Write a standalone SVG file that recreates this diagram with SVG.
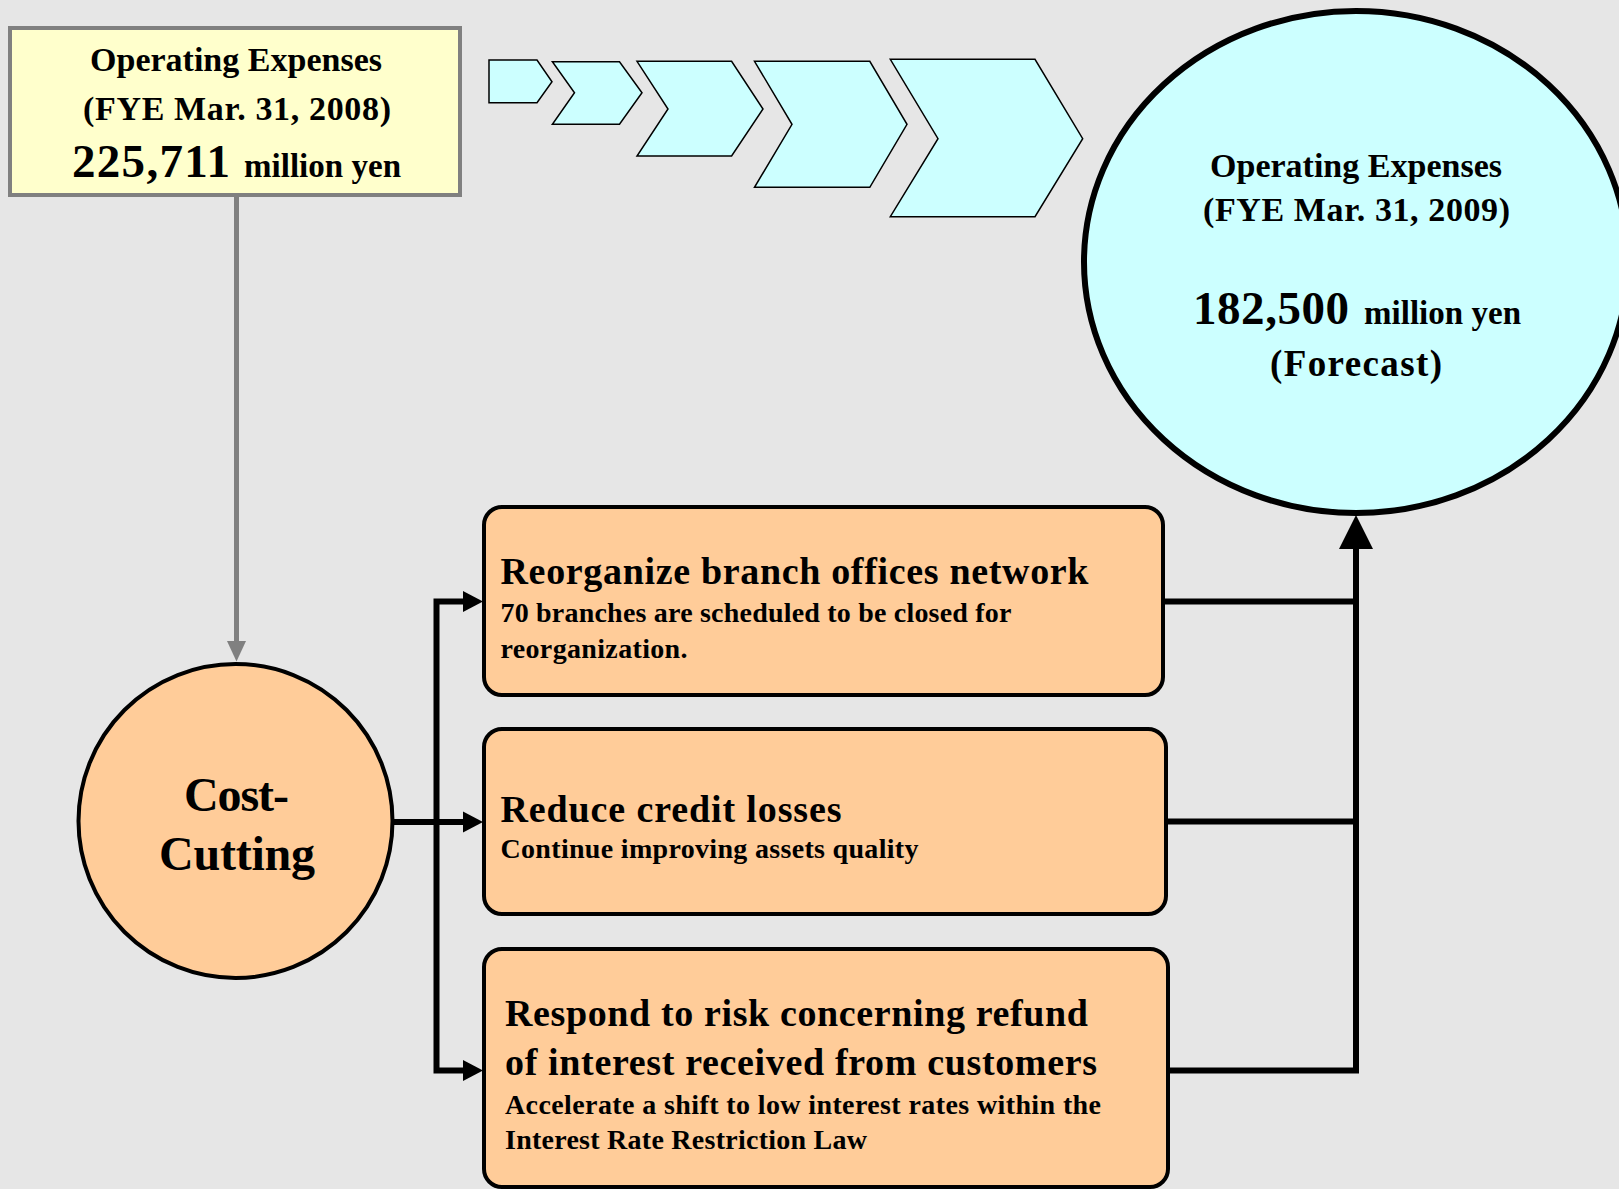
<svg xmlns="http://www.w3.org/2000/svg" width="1619" height="1189" viewBox="0 0 1619 1189">
<style>
text{font-family:"Liberation Serif","Times New Roman",serif;font-weight:bold;fill:#000}
.chev{fill:#CCFFFF;stroke:#000;stroke-width:1.5;stroke-linejoin:miter}
.box{fill:#FFCC99;stroke:#000;stroke-width:4}
.ln{fill:none;stroke:#000;stroke-width:6}
.t{font-size:38px}
.s{font-size:28px}
.h{font-size:34px}
</style>
<rect x="0" y="0" width="1619" height="1189" fill="#E6E6E6"/>
<g id="chevrons">
<polygon class="chev" points="489,60 537,60 552,81.7 537,102.7 489,102.7"/>
<polygon class="chev" points="552.4,61.7 619.5,61.7 642,92.7 619.5,124.3 552.4,124.3 574.5,92.7"/>
<polygon class="chev" points="637,61.3 731.6,61.3 763,109 731.6,156 637,156 668,109"/>
<polygon class="chev" points="754.5,61.3 869.8,61.3 907,124.3 869.8,187.3 754.5,187.3 792,124.3"/>
<polygon class="chev" points="890.3,59.3 1035,59.3 1082.7,138.7 1035,216.7 890.3,216.7 938,138.7"/>
</g>
<g id="connectors">
<line x1="236.5" y1="196" x2="236.5" y2="645" stroke="#808080" stroke-width="5"/>
<polygon points="227,641 246,641 236.5,661.5" fill="#808080"/>
<line class="ln" x1="392" y1="822" x2="466" y2="822"/>
<polyline class="ln" points="466,601.5 436.5,601.5 436.5,1070.5 466,1070.5"/>
<polygon points="463,811.5 483,822 463,832.5"/>
<polygon points="463,591 483,601.5 463,612"/>
<polygon points="463,1060 483,1070.5 463,1081"/>
<polyline class="ln" points="1163,601.5 1356,601.5"/>
<polyline class="ln" points="1166,821.5 1356,821.5"/>
<polyline class="ln" points="1168,1070.5 1356,1070.5 1356,545"/>
<polygon points="1339,549 1373,549 1356,515"/>
</g>
<g id="fy2008">
<rect x="10" y="28" width="450" height="167" fill="#FFFFCC" stroke="#808080" stroke-width="4"/>
<text class="h" x="90" y="71" textLength="292" lengthAdjust="spacing">Operating Expenses</text>
<text class="h" x="83" y="120" textLength="308" lengthAdjust="spacing">(FYE Mar. 31, 2008)</text>
<text x="72" y="177" font-size="47" textLength="158" lengthAdjust="spacing">225,711</text>
<text x="244" y="177" font-size="33" textLength="157" lengthAdjust="spacing">million yen</text>
</g>
<g id="fy2009">
<ellipse cx="1356" cy="262" rx="272" ry="251" fill="#CCFFFF" stroke="#000" stroke-width="6"/>
<text class="h" x="1210" y="177" textLength="292" lengthAdjust="spacing">Operating Expenses</text>
<text class="h" x="1203" y="221" textLength="307" lengthAdjust="spacing">(FYE Mar. 31, 2009)</text>
<text x="1193" y="324" font-size="47" textLength="156" lengthAdjust="spacing">182,500</text>
<text x="1364" y="324" font-size="33" textLength="157" lengthAdjust="spacing">million yen</text>
<text x="1270" y="376" font-size="37" textLength="172" lengthAdjust="spacing">(Forecast)</text>
</g>
<g id="cost-cutting">
<circle cx="235.5" cy="821" r="157" fill="#FFCC99" stroke="#000" stroke-width="4"/>
<text x="184" y="811" font-size="48" textLength="105" lengthAdjust="spacing">Cost-</text>
<text x="159" y="870" font-size="48" textLength="156" lengthAdjust="spacing">Cutting</text>
</g>
<g id="branches">
<rect class="box" x="484" y="507" width="679" height="188" rx="18"/>
<text class="t" x="500.5" y="584" textLength="588" lengthAdjust="spacing">Reorganize branch offices network</text>
<text class="s" x="500.5" y="622" textLength="511" lengthAdjust="spacing">70 branches are scheduled to be closed for</text>
<text class="s" x="500.5" y="658" textLength="187" lengthAdjust="spacing">reorganization.</text>
</g>
<g id="credit">
<rect class="box" x="484" y="729" width="682" height="185" rx="18"/>
<text class="t" x="500.5" y="822" textLength="341" lengthAdjust="spacing">Reduce credit losses</text>
<text class="s" x="500.5" y="858" textLength="418" lengthAdjust="spacing">Continue improving assets quality</text>
</g>
<g id="interest">
<rect class="box" x="484" y="949" width="684" height="238" rx="18"/>
<text class="t" x="505" y="1026" textLength="583" lengthAdjust="spacing">Respond to risk concerning refund</text>
<text class="t" x="505" y="1075" textLength="592" lengthAdjust="spacing">of interest received from customers</text>
<text class="s" x="505" y="1113.5" textLength="596" lengthAdjust="spacing">Accelerate a shift to low interest rates within the</text>
<text class="s" x="505" y="1149" textLength="362" lengthAdjust="spacing">Interest Rate Restriction Law</text>
</g>
</svg>
